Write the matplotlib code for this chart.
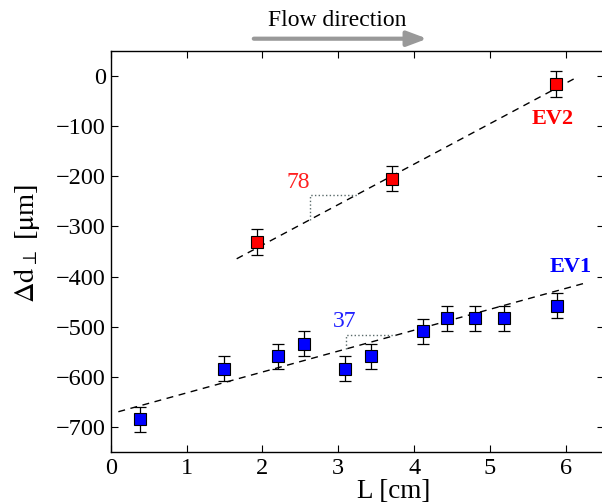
import matplotlib
matplotlib.use("Agg")
import matplotlib.pyplot as plt
import numpy as np

plt.rcParams['font.family'] = ['Liberation Serif', 'DejaVu Serif']
plt.rcParams['mathtext.fontset'] = 'stix'

# EV1 (blue)
ev1_x = [0.38, 1.49, 2.20, 2.55, 3.09, 3.43, 4.11, 4.43, 4.80, 5.18, 5.88]
ev1_y = [-685, -584, -559, -534, -584, -559, -509, -483, -483, -483, -458]
ev1_err = [25] * len(ev1_x)
ev1_fit = (41.7, -673.7)      # slope, intercept
ev1_fit_range = (0.1, 6.27)
ev1_tri = (3.10, 3.75)

# EV2 (red)
ev2_x = [1.93, 3.71, 5.87]
ev2_y = [-331, -205, -16]
ev2_err = [25, 25, 25]
ev2_fit = (80.7, -498.5)
ev2_fit_range = (1.66, 6.12)
ev2_tri = (2.63, 3.24)

xticks = [0, 1, 2, 3, 4, 5, 6]
yticks = [0, -100, -200, -300, -400, -500, -600, -700]

fig = plt.figure(figsize=(6.02, 5.04), dpi=100)
ax = fig.add_axes([0.184, 0.103, 0.819, 0.796])

def draw(xs, ys, errs, fit, rng, tri, color):
    s, b = fit
    lx = np.array(rng)
    ax.plot(lx, s * lx + b, '--', color='black', lw=1.0, dashes=(5, 4), zorder=2)
    x0, x1 = tri
    ax.plot([x0, x0, x1], [s * x0 + b, s * x1 + b, s * x1 + b], ':', color='#5a6b6b', lw=1.0, zorder=2)
    ax.errorbar(xs, ys, yerr=errs, fmt='none', ecolor='black', elinewidth=0.9, capsize=4, capthick=0.9, zorder=3)
    ax.plot(xs, ys, 's', color=color, markeredgecolor='black', markeredgewidth=0.8, markersize=9, zorder=4, linestyle='none')

draw(ev1_x, ev1_y, ev1_err, ev1_fit, ev1_fit_range, ev1_tri, '#0000ff')
draw(ev2_x, ev2_y, ev2_err, ev2_fit, ev2_fit_range, ev2_tri, '#ff0000')

ax.text(3.08, -511, '37', color='#2020ff', fontsize=17, ha='center', va='bottom')
ax.text(2.47, -234, '78', color='#ff2020', fontsize=17, ha='center', va='bottom')
ax.text(6.34, -380, 'EV1', color='#0000ff', fontsize=16, fontweight='bold', ha='right', va='center')
ax.text(6.1, -86, 'EV2', color='#ff0000', fontsize=16, fontweight='bold', ha='right', va='center')

ax.set_xlim(0, 6.5)
ax.set_ylim(-750, 50)
ax.set_xticks(xticks)
ax.set_yticks(yticks)
ax.set_yticklabels(['\u2212%d' % -v if v < 0 else '%d' % v for v in yticks])
ax.tick_params(direction='in', top=True, right=True, labelsize=17.5, length=5, width=0.8)
ax.tick_params(axis='x', pad=4)
for sp in ax.spines.values():
    sp.set_linewidth(1.0)

ax.set_xlabel('L [cm]', fontsize=19.5)
ax.xaxis.set_label_coords(0.574, -0.067)
ax.set_ylabel(r'$\Delta\mathrm{d}_\perp$ [$\mathrm{\mu}$m]', fontsize=20.5)
ax.yaxis.set_label_coords(-0.140, 0.521)

# Flow direction arrow
fig.text(337 / 602, 1 - 21 / 504, 'Flow direction', fontsize=17, ha='center', va='center')
fig.add_artist(matplotlib.patches.FancyArrowPatch((251 / 602, 1 - 38.7 / 504), (430 / 602, 1 - 38.7 / 504),
               transform=fig.transFigure, arrowstyle='-|>,head_length=12,head_width=4.5',
               color='#999999', lw=3, mutation_scale=1))

fig.savefig('out.png', dpi=100)
